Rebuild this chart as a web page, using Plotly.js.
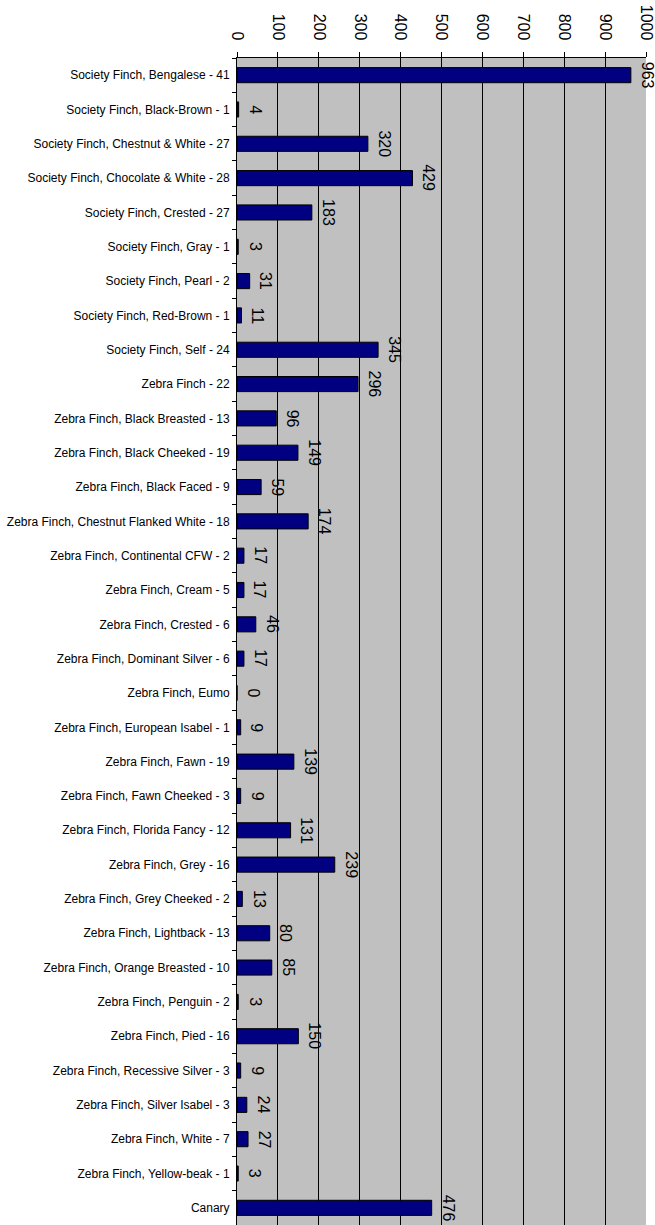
<!DOCTYPE html>
<html>
<head>
<meta charset="utf-8">
<script src="https://cdn.plot.ly/plotly-3.0.1.min.js"></script>
<style>html,body{margin:0;padding:0;background:#fff;}#chart{width:655px;height:1225px;}</style>
</head>
<body>
<div id="chart"></div>
<script>
var categories = [
  "Society Finch, Bengalese - 41",
  "Society Finch, Black-Brown - 1",
  "Society Finch, Chestnut & White - 27",
  "Society Finch, Chocolate & White - 28",
  "Society Finch, Crested - 27",
  "Society Finch, Gray - 1",
  "Society Finch, Pearl - 2",
  "Society Finch, Red-Brown - 1",
  "Society Finch, Self - 24",
  "Zebra Finch - 22",
  "Zebra Finch, Black Breasted - 13",
  "Zebra Finch, Black Cheeked - 19",
  "Zebra Finch, Black Faced - 9",
  "Zebra Finch, Chestnut Flanked White - 18",
  "Zebra Finch, Continental CFW - 2",
  "Zebra Finch, Cream - 5",
  "Zebra Finch, Crested - 6",
  "Zebra Finch, Dominant Silver - 6",
  "Zebra Finch, Eumo",
  "Zebra Finch, European Isabel - 1",
  "Zebra Finch, Fawn - 19",
  "Zebra Finch, Fawn Cheeked - 3",
  "Zebra Finch, Florida Fancy - 12",
  "Zebra Finch, Grey - 16",
  "Zebra Finch, Grey Cheeked - 2",
  "Zebra Finch, Lightback - 13",
  "Zebra Finch, Orange Breasted - 10",
  "Zebra Finch, Penguin - 2",
  "Zebra Finch, Pied - 16",
  "Zebra Finch, Recessive Silver - 3",
  "Zebra Finch, Silver Isabel - 3",
  "Zebra Finch, White - 7",
  "Zebra Finch, Yellow-beak - 1",
  "Canary"
];
var values = [963, 4, 320, 429, 183, 3, 31, 11, 345, 296, 96, 149, 59, 174, 17, 17, 46, 17, 0, 9, 139, 9, 131, 239, 13, 80, 85, 3, 150, 9, 24, 27, 3, 476];
var xTicks = [0, 100, 200, 300, 400, 500, 600, 700, 800, 900, 1000];

var FONT = "Liberation Sans, Arial, sans-serif";

var annotations = categories.map(function (c, i) {
  return {
    x: values[i], y: c, xref: 'x', yref: 'y',
    text: String(values[i]), showarrow: false,
    textangle: 90, xanchor: 'left', yanchor: 'middle', xshift: 6,
    font: {family: FONT, size: 16, color: '#000'}
  };
});

var trace = {
  type: 'bar', orientation: 'h',
  x: values, y: categories,
  marker: {color: '#000080', line: {color: '#000', width: 1}},
  hoverinfo: 'none'
};

var layout = {
  width: 655, height: 1225,
  margin: {l: 237, r: 9, t: 58, b: 0, pad: 0},
  paper_bgcolor: '#ffffff', plot_bgcolor: '#c0c0c0',
  bargap: 0.56,
  showlegend: false,
  font: {family: FONT, color: '#000'},
  xaxis: {
    side: 'top', range: [0, 1000], tickvals: xTicks, ticktext: xTicks.map(String),
    tickangle: 90, ticks: 'outside', ticklen: 5, tickcolor: '#000',
    ticklabelstandoff: 6,
    showgrid: true, gridcolor: '#000', gridwidth: 1,
    showline: true, linecolor: '#000', linewidth: 1,
    zeroline: false, tickfont: {family: FONT, size: 16, color: '#000'}
  },
  yaxis: {
    type: 'category', autorange: 'reversed',
    ticks: 'outside', ticklen: 4, tickcolor: '#000', tickson: 'boundaries',
    ticklabelstandoff: 4,
    showline: true, linecolor: '#000', linewidth: 1, showgrid: false,
    tickfont: {family: FONT, size: 12, color: '#000'}
  },
  annotations: annotations
};

Plotly.newPlot('chart', [trace], layout, {staticPlot: true, displayModeBar: false});
</script>
</body>
</html>
